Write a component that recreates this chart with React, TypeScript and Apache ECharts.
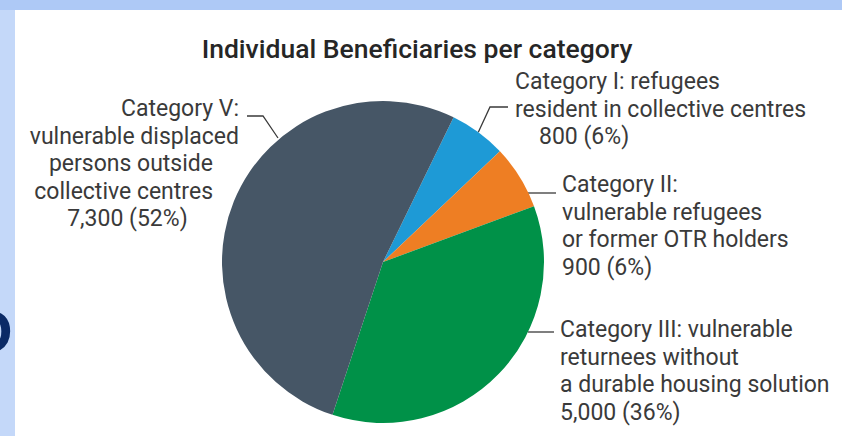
import React, { useEffect, useRef } from "react";
import * as echarts from "echarts";

const titleText = "Individual Beneficiaries per category";
const categories = [
  "Category I: refugees resident in collective centres",
  "Category II: vulnerable refugees or former OTR holders",
  "Category III: vulnerable returnees without a durable housing solution",
  "Category V: vulnerable displaced persons outside collective centres",
];
const values = [800, 900, 5000, 7300];
const percents = [6, 6, 36, 52];
const colors = ["#1E9AD6", "#EE7E23", "#009148", "#465666"];

const fmt = (v: number) => v.toLocaleString("en-US");

// label text per category, using rich styles for per-line alignment
const labelTexts = [
  (v: number, p: number) =>
    `{l|Category I: refugees}\n{l|resident in collective centres}\n{li|${fmt(v)} (${p}%)}`,
  (v: number, p: number) =>
    `{l|Category II:}\n{l|vulnerable refugees}\n{l|or former OTR holders}\n{l|${fmt(v)} (${p}%)}`,
  (v: number, p: number) =>
    `{l|Category III: vulnerable}\n{l|returnees without}\n{l|a durable housing solution}\n{l|${fmt(v)} (${p}%)}`,
  (v: number, p: number) =>
    `{r|Category V:}\n{r|vulnerable displaced}\n{rp|persons outside}\n{rp|collective centres}\n{cp|${fmt(v)} (${p}%)}`,
];

export default function App() {
  const ref = useRef<HTMLDivElement>(null);
  useEffect(() => {
    document.body.style.margin = "0";
    const chart = echarts.init(ref.current!, null, { renderer: "svg" });
    const font = "Roboto, 'Liberation Sans', sans-serif";
    const txt = { fontFamily: font, fontSize: 23, color: "#3a3a3a", lineHeight: 27.5 };
    const layouts: any[] = [
      { x: 515, y: 68, align: "left", line: (p0: number[]) => [p0, [490, 107], [508, 107]] },
      { x: 562, y: 171, align: "left", line: () => [[528, 193], [542, 193], [556, 193]] },
      { x: 560, y: 316, align: "left", line: () => [[528, 332], [540, 332], [554, 332]] },
      { x: 239, y: 95, align: "right", line: () => [[278, 138], [263, 116], [247, 116]] },
    ];
    chart.setOption({
      animation: false,
      backgroundColor: "#ffffff",
      title: {
        text: titleText,
        left: 412,
        top: 30,
        textAlign: "center",
        textStyle: { fontFamily: font, fontSize: 26.5, fontWeight: 500, color: "#262626" },
      },
      graphic: [
        { type: "rect", shape: { x: 0, y: 0, width: 842, height: 10 }, style: { fill: "#AEC9F6" }, silent: true },
        { type: "rect", shape: { x: 0, y: 10, width: 15, height: 426 }, style: { fill: "#C4D8F9" }, silent: true },
        {
          type: "text",
          x: -34,
          y: 331,
          style: {
            text: "O",
            fontFamily: "'Liberation Sans', sans-serif",
            fontWeight: "bold",
            fontSize: 60,
            fill: "#0B2A66",
            verticalAlign: "middle",
          },
          silent: true,
        },
      ],
      series: [
        {
          type: "pie",
          center: [383, 262],
          radius: 161,
          startAngle: 64,
          clockwise: true,
          avoidLabelOverlap: false,
          itemStyle: { borderWidth: 0 },
          data: categories.map((c, i) => ({
            name: c,
            value: values[i],
            itemStyle: { color: colors[i] },
            label: { formatter: labelTexts[i](values[i], percents[i]) },
          })),
          label: {
            show: true,
            position: "outside",
            ...txt,
            rich: {
              l: { ...txt, align: "left" },
              li: { ...txt, align: "left", padding: [0, 0, 0, 24] },
              r: { ...txt, align: "right" },
              rp: { ...txt, align: "right", padding: [0, 26, 0, 0] },
              cp: { ...txt, align: "center", padding: [0, 14, 0, 0] },
            },
          },
          labelLine: {
            show: true,
            length: 10,
            length2: 10,
            lineStyle: { color: "#3a3a3a", width: 1.3 },
          },
          labelLayout: (params: any) => {
            const L = layouts[params.dataIndex];
            const p0 = params.labelLinePoints ? params.labelLinePoints[0] : [476, 130];
            return {
              x: L.x,
              y: L.y,
              align: L.align,
              verticalAlign: "top",
              labelLinePoints: L.line(p0),
            };
          },
        },
      ],
    });
    return () => chart.dispose();
  }, []);
  return (
    <div
      ref={ref}
      style={{ position: "absolute", left: 0, top: 0, width: 842, height: 436 }}
    />
  );
}
